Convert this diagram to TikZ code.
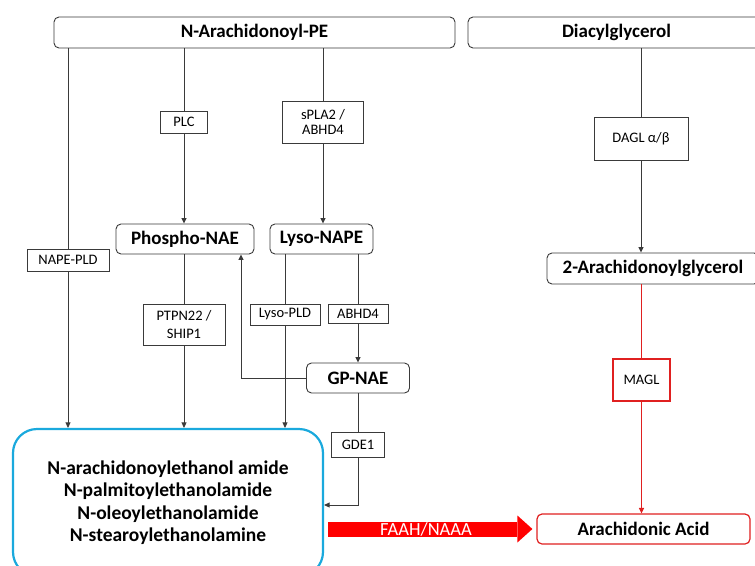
\documentclass[tikz,border=0pt]{standalone}
\usepackage{fontspec}
\setmainfont{Carlito}
\usetikzlibrary{arrows.meta}
\definecolor{edge}{HTML}{3A3A3A}
\definecolor{naeblue}{HTML}{1AA9DD}
\definecolor{pathred}{HTML}{E02020}
\definecolor{faahred}{HTML}{FF0000}
\begin{document}
\begin{tikzpicture}[x=1pt,y=-1pt,
  box/.style={draw=edge, line width=0.9pt, fill=white, inner sep=0pt, align=center},
  metab/.style={box, rounded corners=5pt, font=\fontsize{19}{21}\selectfont\bfseries, minimum height=30pt},
  enzyme/.style={box, font=\fontsize{14.5}{17.5}\selectfont},
  redbox/.style={draw=pathred, line width=1.2pt},
  conn/.style={draw=edge, line width=0.9pt},
  arr/.style={conn, -{Triangle[length=5.5pt,width=5pt]}},
  redconn/.style={draw=pathred, line width=1.2pt},
  redarr/.style={redconn, -{Triangle[length=5.5pt,width=5pt]}},
]
\useasboundingbox (0,0) rectangle (755,565);

% substrates
\node[metab, minimum width=401pt, minimum height=31pt] (pe) at (254.5,32.5) {N-Arachidonoyl-PE};
\node[metab, minimum width=297pt, minimum height=31pt] (dag) at (616.5,32.5) {Diacylglycerol};

% enzymes of the first step
\node[enzyme, minimum width=47pt, minimum height=22pt] (plc) at (184,122) {PLC};
\node[enzyme, minimum width=81pt, minimum height=42pt, font=\fontsize{14.5}{14.5}\selectfont] (spla) at (323,122) {sPLA2 /\\ABHD4};
\node[enzyme, minimum width=94pt, minimum height=43pt] (dagl) at (641,138.5) {DAGL α/β};

% intermediates
\node[metab, minimum width=138pt] (pnae) at (185,239) {Phospho-NAE};
\node[metab, minimum width=103pt] (lnape) at (321.5,239) {Lyso-NAPE};
\node[enzyme, minimum width=82pt, minimum height=22pt] (napepld) at (68,260) {NAPE-PLD};
\node[enzyme, minimum width=82pt, minimum height=41pt] (ptpn) at (184,324.5) {PTPN22 /\\SHIP1};
\node[enzyme, minimum width=70pt, minimum height=21pt] (lpld) at (285,314.5) {Lyso-PLD};
\node[enzyme, minimum width=60pt, minimum height=19pt] (abhd) at (358,313.5) {ABHD4};
\node[metab, minimum width=103pt] (gpnae) at (358,378) {GP-NAE};
\node[metab, minimum width=212pt, minimum height=31pt] (ag) at (653,268.5) {2-Arachidonoylglycerol};
\node[enzyme, redbox, minimum width=57pt, minimum height=42pt] (magl) at (641.5,380) {MAGL};

% products
\node[draw=naeblue, line width=2.2pt, rounded corners=24pt, minimum width=310pt, minimum height=147pt,
      font=\fontsize{19.5}{22.5}\selectfont\bfseries, align=center, inner sep=0pt] (nae) at (168,502.5)
  {N-arachidonoylethanol amide\\N-palmitoylethanolamide\\N-oleoylethanolamide\\N-stearoylethanolamine};
\node[enzyme, minimum width=53pt, minimum height=25pt] (gde) at (358,444.5) {GDE1};
\node[metab, redbox, minimum width=213pt] (aa) at (643.5,529) {Arachidonic Acid};

% NAPE routes
\draw[conn] (pe.south -| napepld) -- (napepld.north);
\draw[arr] (napepld.south) -- (napepld.south |- nae.north);
\draw[conn] (pe.south -| plc) -- (plc.north);
\draw[arr] (plc.south) -- (plc.south |- pnae.north);
\draw[conn] (pe.south -| spla) -- (spla.north);
\draw[arr] (spla.south) -- (spla.south |- lnape.north);
\draw[conn] (pnae.south -| ptpn) -- (ptpn.north);
\draw[arr] (ptpn.south) -- (ptpn.south |- nae.north);
\draw[conn] (lnape.south -| lpld) -- (lpld.north);
\draw[arr] (lpld.south) -- (lpld.south |- nae.north);
\draw[conn] (lnape.south -| abhd) -- (abhd.north);
\draw[arr] (abhd.south) -- (gpnae.north);
\draw[arr] (gpnae.west) -| ([xshift=56pt]pnae.south);
\draw[conn] (gpnae.south) -- (gde.north);
\draw[arr] (gde.south) |- ([yshift=-2.5pt]nae.east);

% 2-AG route
\draw[conn] (dag.south -| dagl) -- (dagl.north);
\draw[arr] (dagl.south) -- (dagl.south |- ag.north);
\draw[redconn] (ag.south -| magl) -- (magl.north);
\draw[redarr] (magl.south) -- (magl.south |- aa.north);

% hydrolysis
\draw[faahred, line width=15pt, -{Triangle[length=15pt,width=27pt,line width=0pt]},
      shorten <=4pt, shorten >=4pt] (nae.east |- aa.west) -- (aa.west)
  node[pos=0.48, text=white, font=\fontsize{18.5}{20}\selectfont] {FAAH/NAAA};
\end{tikzpicture}
\end{document}
